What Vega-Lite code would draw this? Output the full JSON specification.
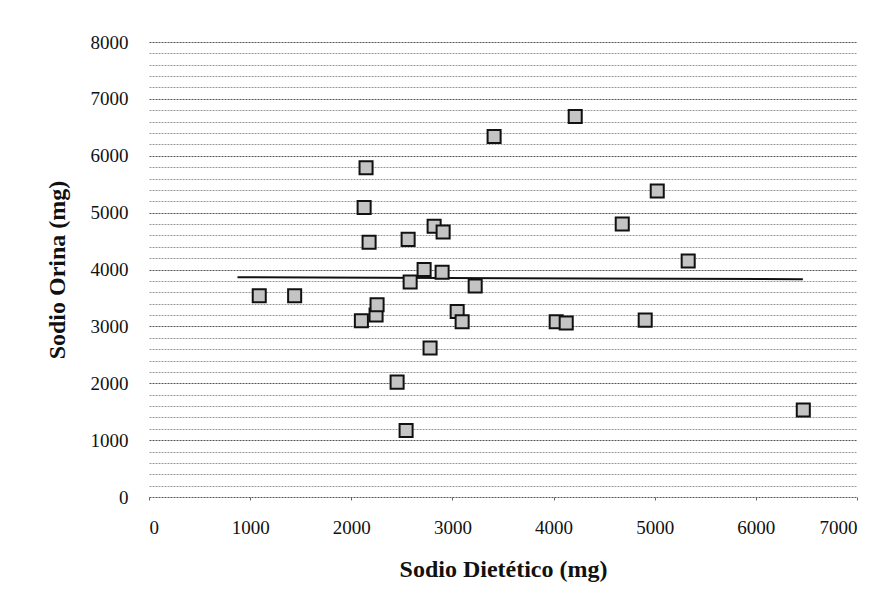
{
  "$schema": "https://vega.github.io/schema/vega-lite/v6.json",
  "width": 708,
  "height": 455,
  "autosize": {"type": "none"},
  "padding": {"left": 149, "top": 42, "right": 35, "bottom": 112},
  "background": "white",
  "config": {
    "view": {"stroke": null},
    "font": "Liberation Serif"
  },
  "datasets": {
    "points": [
      {"dietetico": 1090, "orina": 3540},
      {"dietetico": 1440, "orina": 3540},
      {"dietetico": 2100, "orina": 3100},
      {"dietetico": 2127, "orina": 5090},
      {"dietetico": 2146, "orina": 5790},
      {"dietetico": 2176, "orina": 4480},
      {"dietetico": 2245, "orina": 3200},
      {"dietetico": 2255, "orina": 3380},
      {"dietetico": 2453, "orina": 2020},
      {"dietetico": 2542, "orina": 1170},
      {"dietetico": 2562, "orina": 4530},
      {"dietetico": 2582, "orina": 3780},
      {"dietetico": 2720, "orina": 4000},
      {"dietetico": 2779, "orina": 2620},
      {"dietetico": 2819, "orina": 4760},
      {"dietetico": 2898, "orina": 3950},
      {"dietetico": 2908, "orina": 4660},
      {"dietetico": 3047, "orina": 3260},
      {"dietetico": 3096, "orina": 3080},
      {"dietetico": 3225, "orina": 3710},
      {"dietetico": 3412, "orina": 6340},
      {"dietetico": 4026, "orina": 3080},
      {"dietetico": 4125, "orina": 3060},
      {"dietetico": 4214, "orina": 6690},
      {"dietetico": 4679, "orina": 4800},
      {"dietetico": 4906, "orina": 3110},
      {"dietetico": 5025, "orina": 5380},
      {"dietetico": 5331, "orina": 4150},
      {"dietetico": 6469, "orina": 1530}
    ],
    "trend": [
      {"dietetico": 875, "orina": 3865},
      {"dietetico": 6465, "orina": 3830}
    ]
  },
  "encoding": {
    "x": {
      "field": "dietetico",
      "type": "quantitative",
      "scale": {"domain": [0, 7000], "nice": false, "zero": true},
      "axis": {
        "title": "Sodio Dietético (mg)",
        "values": [0, 1000, 2000, 3000, 4000, 5000, 6000, 7000],
        "format": "d",
        "grid": false,
        "domain": false,
        "ticks": true,
        "tickSize": 3,
        "tickColor": "#666666",
        "labelFont": "Liberation Serif",
        "labelFontSize": 19,
        "labelColor": "#111111",
        "labelPadding": 18,
        "labelOverlap": false,
        "titleFont": "Liberation Serif",
        "titleFontSize": 24,
        "titleFontWeight": "bold",
        "titleColor": "#111111",
        "titlePadding": 20
      }
    },
    "y": {
      "field": "orina",
      "type": "quantitative",
      "scale": {"domain": [0, 8000], "nice": false, "zero": true},
      "axis": {
        "title": "Sodio Orina (mg)",
        "values": [0, 200, 400, 600, 800, 1000, 1200, 1400, 1600, 1800, 2000, 2200, 2400, 2600, 2800, 3000, 3200, 3400, 3600, 3800, 4000, 4200, 4400, 4600, 4800, 5000, 5200, 5400, 5600, 5800, 6000, 6200, 6400, 6600, 6800, 7000, 7200, 7400, 7600, 7800, 8000],
        "format": "d",
        "labelExpr": "datum.value % 1000 === 0 ? datum.label : ''",
        "grid": true,
        "gridDash": [2, 1],
        "gridColor": {"condition": {"test": "datum.value % 1000 === 0", "value": "#555555"}, "value": "#9a9a9a"},
        "gridWidth": 1,
        "domain": false,
        "ticks": false,
        "labelFont": "Liberation Serif",
        "labelFontSize": 19,
        "labelColor": "#111111",
        "labelPadding": 21,
        "labelFlush": false,
        "labelOverlap": false,
        "titleFont": "Liberation Serif",
        "titleFontSize": 24,
        "titleFontWeight": "bold",
        "titleColor": "#111111",
        "titlePadding": 21
      }
    }
  },
  "layer": [
    {
      "data": {"name": "trend"},
      "mark": {"type": "line", "color": "#111111", "strokeWidth": 2}
    },
    {
      "data": {"name": "points"},
      "mark": {"type": "point", "shape": "square", "filled": true, "size": 170, "fill": "#c4c4c4", "stroke": "#111111", "strokeWidth": 2, "opacity": 1}
    }
  ]
}
